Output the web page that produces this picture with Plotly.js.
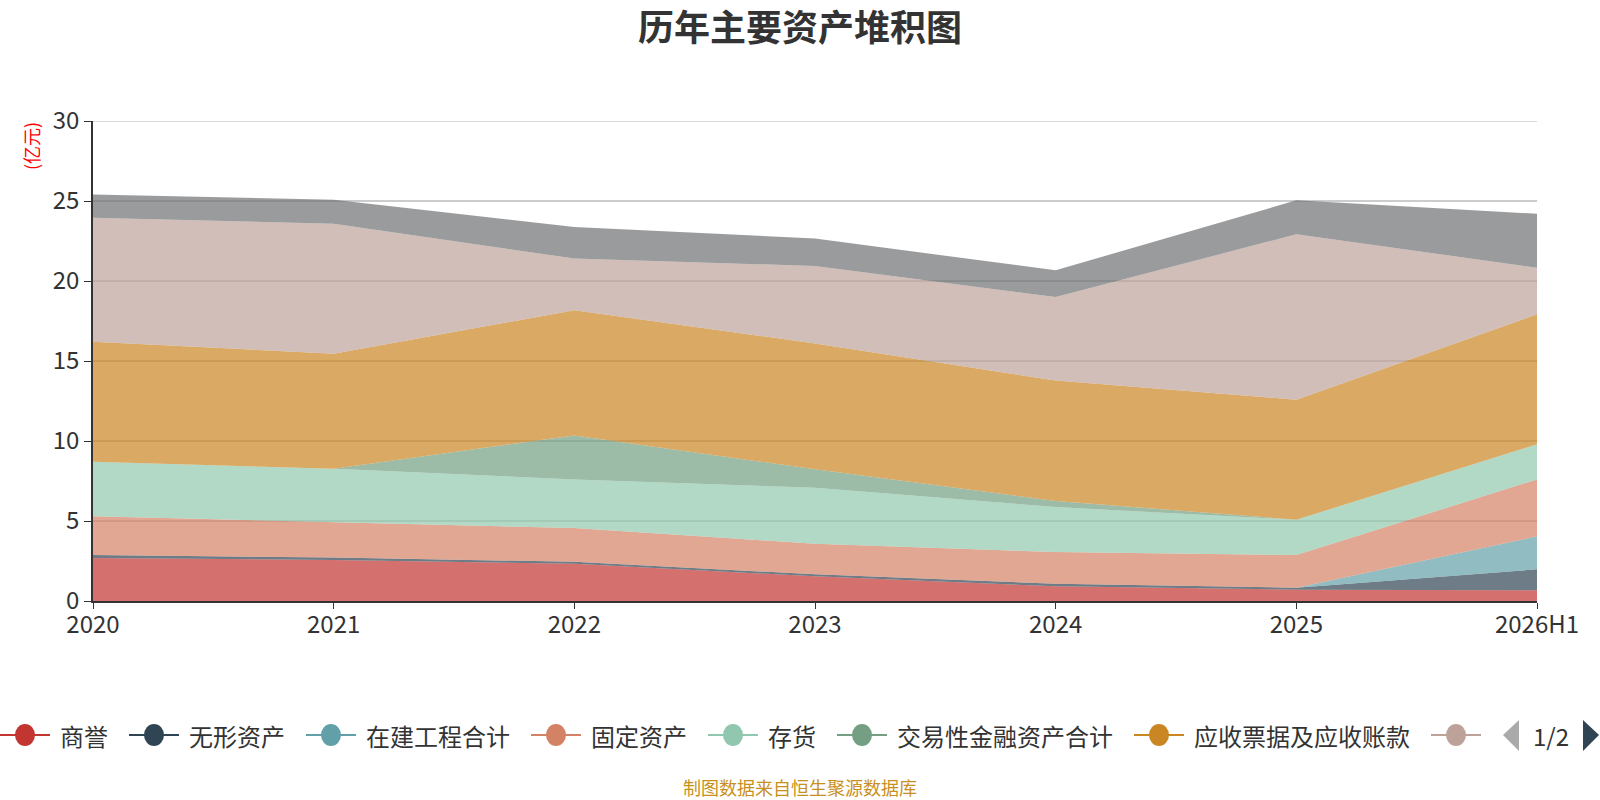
<!DOCTYPE html>
<html>
<head>
<meta charset="utf-8">
<script src="https://cdn.plot.ly/plotly-3.0.1.min.js"></script>
<style>
  html, body { margin: 0; padding: 0; background: #fff; }
  #chart { width: 1600px; height: 800px; }
</style>
</head>
<body>
<div id="chart"></div>
<script>
// 报告期
const periods = ['2020', '2021', '2022', '2023', '2024', '2025', '2026H1'];

// 各项资产（亿元），自下而上堆叠
const goodwill     = [2.68, 2.57, 2.33, 1.54, 0.92, 0.71, 0.67];  // 商誉
const intangible   = [0.20, 0.15, 0.12, 0.13, 0.16, 0.12, 1.31];  // 无形资产
const construction = [0.00, 0.00, 0.00, 0.00, 0.00, 0.00, 2.06];  // 在建工程合计
const fixedAssets  = [2.42, 2.23, 2.11, 1.91, 1.98, 2.04, 3.56];  // 固定资产
const inventory    = [3.40, 3.32, 3.04, 3.50, 2.81, 2.21, 2.19];  // 存货
const tradingFin   = [0.00, 0.00, 2.75, 1.15, 0.38, 0.00, 0.00];  // 交易性金融资产合计
const receivables  = [7.50, 7.19, 7.82, 7.87, 7.53, 7.50, 8.13];  // 应收票据及应收账款
const cash         = [7.75, 8.12, 3.23, 4.84, 5.22, 10.34, 2.91]; // 货币资金
const others       = [1.45, 1.50, 1.98, 1.71, 1.67, 2.12, 3.37];  // 其他

const seriesNames = ['商誉', '无形资产', '在建工程合计', '固定资产', '存货',
                     '交易性金融资产合计', '应收票据及应收账款', '货币资金', '其他'];
const seriesValues = [goodwill, intangible, construction, fixedAssets, inventory,
                      tradingFin, receivables, cash, others];
const palette = ['#c23531', '#2f4554', '#61a0a8', '#d48265', '#91c7ae',
                 '#749f83', '#ca8622', '#bda29a', '#6e7074'];

const yMax = 30;

const FONT = '"Noto Sans CJK SC", "Noto Sans", sans-serif';

// plot box (px)
const W = 1600, H = 800;
const M = { l: 93, r: 63, t: 121, b: 199 };
const plotW = W - M.l - M.r;
const plotH = H - M.t - M.b;
const px2x = px => (px - M.l) / plotW;
const px2y = py => (H - M.b - py) / plotH;

function withAlpha(hex, a) {
    const n = parseInt(hex.slice(1), 16);
    return `rgba(${(n >> 16) & 255},${(n >> 8) & 255},${n & 255},${a})`;
}

const traces = seriesValues.map((vals, i) => ({
    x: periods,
    y: vals,
    name: seriesNames[i],
    type: 'scatter',
    mode: 'lines',
    stackgroup: 'assets',
    line: { width: 0, color: palette[i] },
    fillcolor: withAlpha(palette[i], 0.7),
    showlegend: false,
    hovertemplate: '%{x}<br>' + seriesNames[i] + ': %{y:.2f}亿元<extra></extra>'
}));

const shapes = [];
const annotations = [];

// top grid line (plotly skips the one sitting on the plot edge)
shapes.push({
    type: 'line', xref: 'paper', yref: 'y', layer: 'below',
    x0: 0, x1: 1, y0: yMax, y1: yMax,
    line: { color: '#ccc', width: 1.5 }
});

// legend drawn by hand so it can look like the paged one (first page, 8th label cut)
const legendFontSize = 24;
const ctx = document.createElement('canvas').getContext('2d');
ctx.font = legendFontSize + 'px ' + FONT;
const legendY = 735;
let cursor = 0;
seriesNames.slice(0, 8).forEach((name, i) => {
    const lineStart = cursor;
    const cx = lineStart + 25;
    shapes.push({
        type: 'line', xref: 'paper', yref: 'paper', layer: 'above',
        x0: px2x(lineStart), x1: px2x(lineStart + 50),
        y0: px2y(legendY), y1: px2y(legendY),
        line: { color: palette[i], width: 2 }
    });
    shapes.push({
        type: 'circle', xref: 'paper', yref: 'paper', layer: 'above',
        x0: px2x(cx - 10), x1: px2x(cx + 10),
        y0: px2y(legendY + 11), y1: px2y(legendY - 11),
        fillcolor: palette[i],
        line: { width: 0 }
    });
    if (i < 7) {
        annotations.push({
            text: name,
            xref: 'paper', yref: 'paper',
            x: px2x(lineStart + 58), y: px2y(legendY),
            xanchor: 'left', yanchor: 'middle',
            showarrow: false,
            font: { family: FONT, size: legendFontSize, color: '#333' }
        });
        const tw = ctx.measureText(name).width || name.length * legendFontSize;
        cursor = lineStart + 60 + tw + 21;
    }
});

// pager  ◀ 1/2 ▶
shapes.push({
    type: 'path', xref: 'paper', yref: 'paper', layer: 'above',
    path: `M${px2x(1519)},${px2y(720)} L${px2x(1503)},${px2y(735)} L${px2x(1519)},${px2y(751)} Z`,
    fillcolor: '#aaa', line: { width: 0 }
});
shapes.push({
    type: 'path', xref: 'paper', yref: 'paper', layer: 'above',
    path: `M${px2x(1583)},${px2y(720)} L${px2x(1599)},${px2y(735)} L${px2x(1583)},${px2y(751)} Z`,
    fillcolor: '#2f4554', line: { width: 0 }
});
annotations.push({
    text: '1/2',
    xref: 'paper', yref: 'paper',
    x: px2x(1551), y: px2y(735),
    xanchor: 'center', yanchor: 'middle',
    showarrow: false,
    font: { family: FONT, size: 24, color: '#333' }
});

// unit label and source note
annotations.push({
    text: '(亿元)',
    xref: 'paper', yref: 'paper',
    x: px2x(31), y: px2y(146),
    xanchor: 'center', yanchor: 'middle',
    textangle: -90,
    showarrow: false,
    font: { family: FONT, size: 18, color: '#ff0000' }
});
annotations.push({
    text: '制图数据来自恒生聚源数据库',
    xref: 'paper', yref: 'paper',
    x: px2x(800), y: px2y(787),
    xanchor: 'center', yanchor: 'middle',
    showarrow: false,
    font: { family: FONT, size: 18, color: '#c8901e' }
});

const layout = {
    width: W,
    height: H,
    margin: { l: M.l, r: M.r, t: M.t, b: M.b, autoexpand: false },
    paper_bgcolor: '#fff',
    plot_bgcolor: '#fff',
    font: { family: FONT, color: '#333' },
    showlegend: false,
    title: {
        text: '<b>历年主要资产堆积图</b>',
        font: { family: FONT, size: 36, color: '#333' },
        x: 0.5,
        xanchor: 'center',
        y: 1 - 28 / H,
        yanchor: 'middle'
    },
    xaxis: {
        type: 'category',
        range: [0, periods.length - 1],
        showgrid: false,
        zeroline: false,
        showline: true,
        linecolor: '#333',
        linewidth: 1.5,
        ticks: 'outside',
        ticklen: 6,
        tickcolor: '#333',
        ticklabelstandoff: -5,
        tickfont: { family: FONT, size: 24, color: '#333' },
        layer: 'below traces',
        fixedrange: true
    },
    yaxis: {
        range: [0, yMax],
        dtick: 5,
        showgrid: true,
        gridcolor: '#ccc',
        gridwidth: 1.5,
        zeroline: false,
        showline: true,
        linecolor: '#333',
        linewidth: 1.5,
        ticks: 'outside',
        ticklen: 7,
        tickcolor: '#333',
        tickfont: { family: FONT, size: 24, color: '#333' },
        layer: 'below traces',
        fixedrange: true
    },
    shapes: shapes,
    annotations: annotations
};

const config = { displayModeBar: false };

Plotly.newPlot('chart', traces, layout, config);
</script>
</body>
</html>
